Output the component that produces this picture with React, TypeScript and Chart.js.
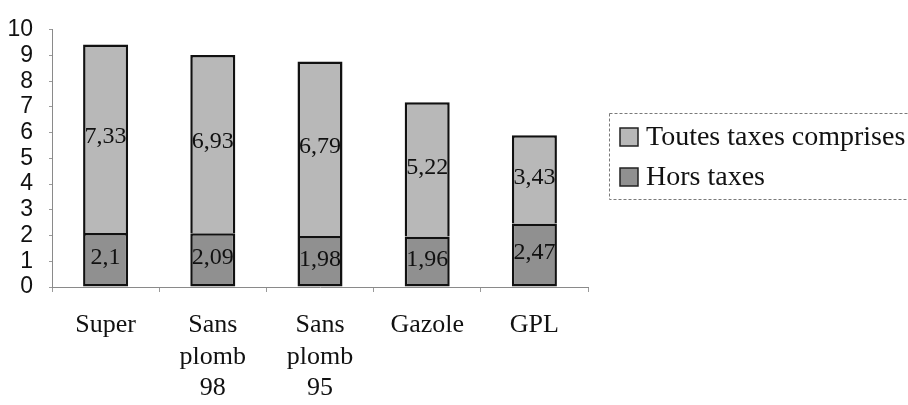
import { useEffect, useRef } from 'react';
import { Chart, registerables } from 'chart.js';

Chart.register(...registerables);

const categories: string[][] = [
  ['Super'],
  ['Sans', 'plomb', '98'],
  ['Sans', 'plomb', '95'],
  ['Gazole'],
  ['GPL'],
];
const horsTaxes = [2.1, 2.09, 1.98, 1.96, 2.47];
const toutesTaxes = [7.33, 6.93, 6.79, 5.22, 3.43];
const seriesLabels = ['Hors taxes', 'Toutes taxes comprises'];
const seriesColors = ['#909090', '#b8b8b8'];
const yMin = 0;
const yMax = 10;
const yStep = 1;

const fmt = (v: number) => String(v).replace('.', ',');

const valueLabels = {
  id: 'valueLabels',
  afterDatasetsDraw(chart: any) {
    const ctx = chart.ctx;
    ctx.save();
    ctx.font = '24px "Liberation Serif", "Times New Roman", serif';
    ctx.fillStyle = '#111';
    ctx.textAlign = 'center';
    ctx.textBaseline = 'middle';
    chart.data.datasets.forEach((ds: any, di: number) => {
      const meta = chart.getDatasetMeta(di);
      meta.data.forEach((el: any, i: number) => {
        const y = (el.y + el.base) / 2 - 2;
        ctx.fillText(fmt(ds.data[i]), el.x, y);
      });
    });
    ctx.restore();
  },
};

const boxLegend = {
  id: 'boxLegend',
  afterDraw(chart: any) {
    const ctx = chart.ctx;
    const left = 609.5;
    const top = 113.5;
    const bottom = 199.5;
    const right = 920;
    ctx.save();
    ctx.strokeStyle = '#7a7a7a';
    ctx.lineWidth = 1;
    ctx.setLineDash([3, 2]);
    ctx.strokeRect(left, top, right - left, bottom - top);
    ctx.setLineDash([]);
    const items = chart.data.datasets.map((d: any) => ({ label: d.label, color: d.backgroundColor })).reverse();
    ctx.font = '28px "Liberation Serif", "Times New Roman", serif';
    ctx.textBaseline = 'middle';
    ctx.textAlign = 'left';
    const rowY = [137, 177];
    items.forEach((it: any, i: number) => {
      const cy = rowY[i];
      ctx.fillStyle = it.color;
      ctx.fillRect(620, cy - 9, 18, 18);
      ctx.strokeStyle = '#222';
      ctx.lineWidth = 1.5;
      ctx.strokeRect(620, cy - 9, 18, 18);
      ctx.fillStyle = '#111';
      ctx.fillText(it.label, 646, cy + 1);
    });
    ctx.restore();
  },
};

export default function App() {
  const ref = useRef<HTMLCanvasElement>(null);
  useEffect(() => {
    document.body.style.margin = '0';
    const canvas = ref.current;
    if (!canvas) return;
    const chart = new Chart(canvas, {
      type: 'bar',
      data: {
        labels: categories,
        datasets: [
          {
            label: seriesLabels[0],
            data: horsTaxes,
            backgroundColor: seriesColors[0],
            borderColor: '#111',
            borderWidth: 2.5,
            borderSkipped: false,
            barPercentage: 0.42,
            categoryPercentage: 1,
          },
          {
            label: seriesLabels[1],
            data: toutesTaxes,
            backgroundColor: seriesColors[1],
            borderColor: '#111',
            borderWidth: 2.5,
            borderSkipped: 'start',
            barPercentage: 0.42,
            categoryPercentage: 1,
          },
        ],
      },
      options: {
        animation: false,
        responsive: false,
        maintainAspectRatio: false,
        layout: { padding: { top: 24, right: 320, left: 0, bottom: 0 } },
        plugins: {
          legend: { display: false },
          tooltip: { enabled: false },
        },
        scales: {
          x: {
            stacked: true,
            afterFit: (s: any) => {
              s.height = 118;
            },
            grid: {
              display: true,
              drawOnChartArea: false,
              drawTicks: true,
              tickLength: 5,
              color: '#9a9a9a',
              offset: true,
            },
            border: { display: true, color: '#8a8a8a', dash: [2, 2] },
            ticks: {
              font: { family: '"Liberation Serif", "Times New Roman", serif', size: 26 },
              color: '#111',
              padding: 18,
              maxRotation: 0,
              autoSkip: false,
            },
          },
          y: {
            stacked: true,
            min: yMin,
            max: yMax,
            afterFit: (s: any) => {
              s.width = 52;
            },
            ticks: {
              stepSize: yStep,
              autoSkip: false,
              font: { family: '"Liberation Sans", Arial, sans-serif', size: 23 },
              color: '#111',
              padding: 16,
            },
            grid: {
              display: true,
              drawOnChartArea: false,
              drawTicks: true,
              tickLength: 3,
              color: '#9a9a9a',
            },
            border: { display: true, color: '#8a8a8a', dash: [2, 2] },
          },
        },
      },
      plugins: [valueLabels, boxLegend],
    });
    return () => chart.destroy();
  }, []);
  return (
    <div style={{ width: 908, height: 405 }}>
      <canvas ref={ref} width={908} height={405} style={{ display: 'block', width: 908, height: 405 }} />
    </div>
  );
}
